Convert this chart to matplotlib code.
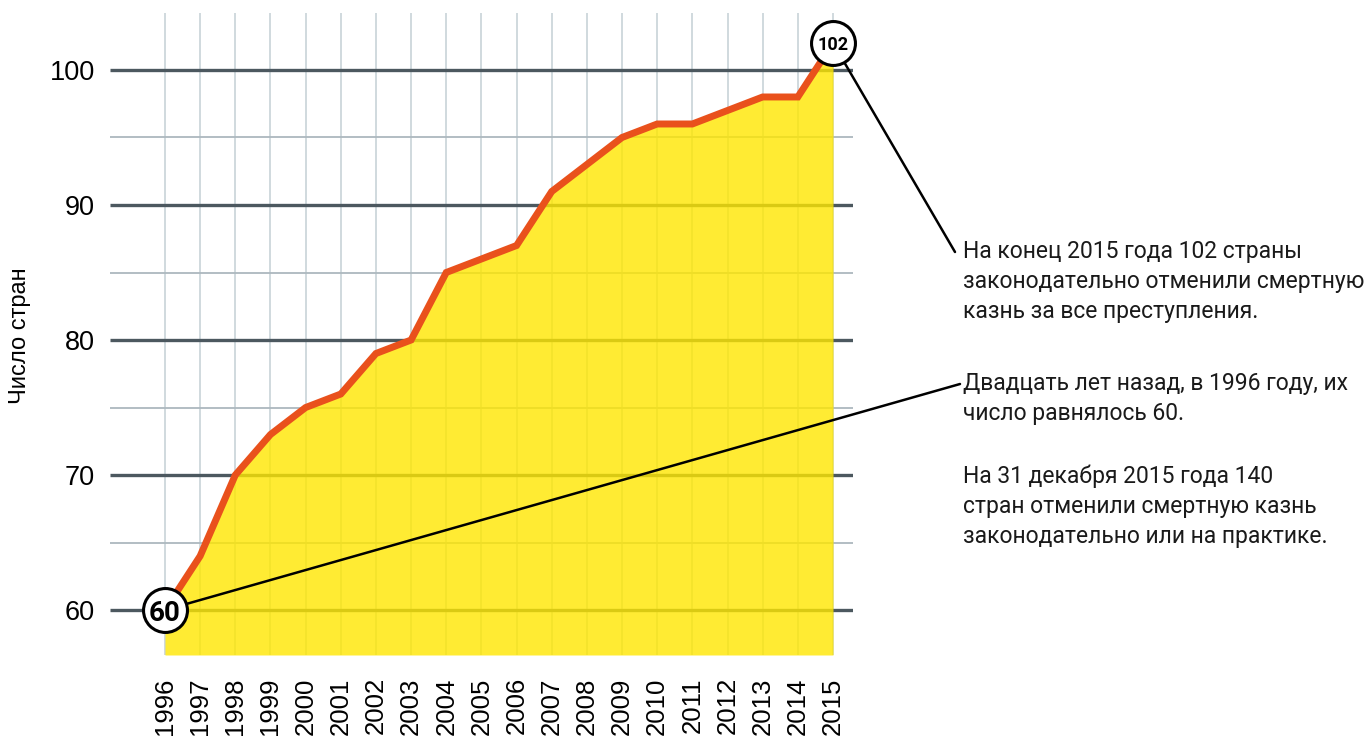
import numpy as np
import matplotlib
matplotlib.use("Agg")
import matplotlib.pyplot as plt

# ── Data ──────────────────────────────────────────────────────────────────────
years = [1996, 1997, 1998, 1999, 2000, 2001, 2002, 2003, 2004, 2005,
         2006, 2007, 2008, 2009, 2010, 2011, 2012, 2013, 2014, 2015]
countries = [60, 64, 70, 73, 75, 76, 79, 80, 85, 86,
             87, 91, 93, 95, 96, 96, 97, 98, 98, 102]
major_ticks = [60, 70, 80, 90, 100]
minor_ticks = [65, 75, 85, 95]
ylabel = "Число стран"
note_top = "На конец 2015 года 102 страны\nзаконодательно отменили смертную\nказнь за все преступления."
note_mid = "Двадцать лет назад, в 1996 году, их\nчисло равнялось 60."
note_low = "На 31 декабря 2015 года 140\nстран отменили смертную казнь\nзаконодательно или на практике."

W, H = 1365, 740
YELLOW = "#ffe700"
ORANGE = "#e9511c"
DARK = "#4c585f"
LIGHT = "#adb8be"
VLINE = "#d0d9de"
TEXT_FONT = ["Roboto", "DejaVu Sans"]
TICK_FONT = ["Liberation Sans", "DejaVu Sans"]

fig = plt.figure(figsize=(W / 100, H / 100), dpi=100)
ax = fig.add_axes([110 / W, 85 / H, (853 - 110) / W, (727 - 85) / H])
ax.set_xlim(1994.436, 2015.569)
ax.set_ylim(56.67, 104.22)
for s in ax.spines.values():
    s.set_visible(False)

# grid (under a semi-transparent fill so it shows through faintly)
ax.vlines(years, 56.67, 104.22, color=VLINE, lw=1.4, zorder=0)
ax.hlines(minor_ticks, 1994.436, 2015.569, color=LIGHT, lw=1.3, zorder=0)
ax.hlines(major_ticks, 1994.436, 2015.569, color=DARK, lw=2.4, zorder=0)

ax.fill_between(years, countries, 56.67, color=YELLOW, alpha=0.8, lw=0, zorder=1)
ax.plot(years, countries, color=ORANGE, lw=5, solid_joinstyle="miter", zorder=3)

# ticks
ax.set_xticks(years)
ax.set_xticklabels([str(y) for y in years], rotation=90, fontsize=18.5,
                   family=TICK_FONT)
ax.set_yticks(major_ticks)
ax.set_yticklabels([str(v) for v in major_ticks], fontsize=19.5, family=TICK_FONT)
ax.tick_params(axis="x", length=0, pad=16)
ax.tick_params(axis="y", length=0, pad=11)

fig.text(20 / W, 1 - 336 / H, ylabel, rotation=90, ha="center", va="center",
         fontsize=17, family=TICK_FONT)

# leader lines
ax.annotate("", xy=(955 / W, 1 - 252 / H), xycoords="figure fraction",
            xytext=(years[-1], countries[-1]), textcoords="data",
            arrowprops=dict(arrowstyle="-", lw=1.8, color="black",
                            shrinkA=0, shrinkB=0),
            annotation_clip=False, zorder=4)
ax.annotate("", xy=(960 / W, 1 - 384 / H), xycoords="figure fraction",
            xytext=(years[0], countries[0]), textcoords="data",
            arrowprops=dict(arrowstyle="-", lw=1.8, color="black",
                            shrinkA=0, shrinkB=0),
            annotation_clip=False, zorder=4)

# end-point circles
ax.scatter([years[0], years[-1]], [countries[0], countries[-1]], s=1000,
           facecolor="white", edgecolor="black", lw=2.2, zorder=6, clip_on=False)
ax.text(years[0], countries[0], str(countries[0]), ha="center", va="center_baseline",
        fontsize=20, fontweight="bold", family=TEXT_FONT, zorder=7)
ax.text(years[-1], countries[-1], str(countries[-1]), ha="center", va="center_baseline",
        fontsize=13, fontweight="bold", family=TEXT_FONT, zorder=7)

# notes
for txt, ytop in [(note_top, 240), (note_mid, 372), (note_low, 465)]:
    fig.text(963 / W, 1 - ytop / H, txt, ha="left", va="top", fontsize=16.5,
             family=TEXT_FONT, color="#1a1a1a", linespacing=1.38)

fig.savefig("out.png", dpi=100)
